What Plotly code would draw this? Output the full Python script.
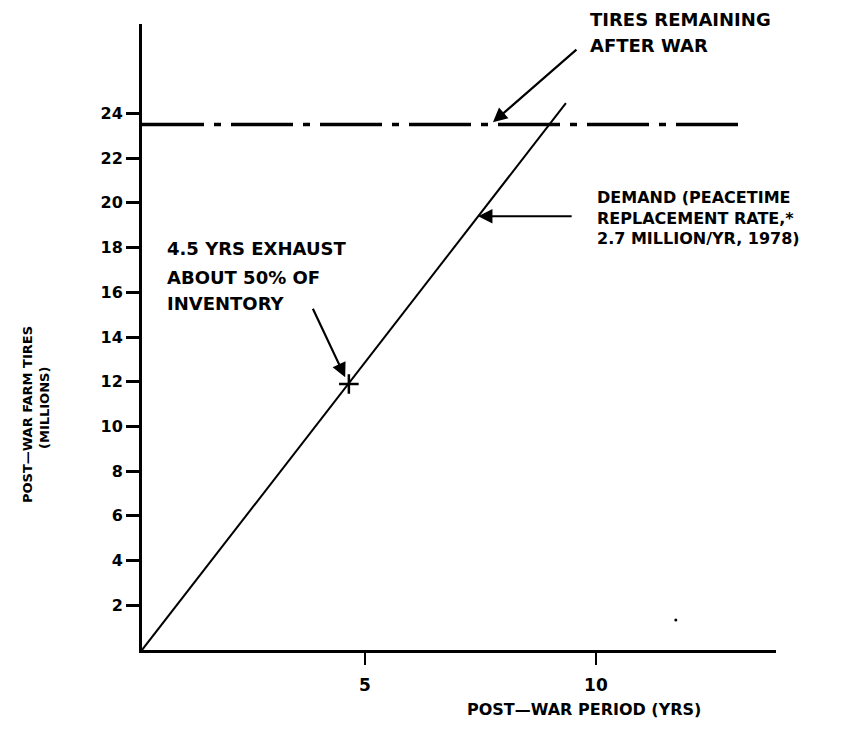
import plotly.graph_objects as go

# ---- data ----
demand_x = [0.17, 9.35]          # post-war period (yrs)
demand_y = [0.0, 24.46]          # cumulative demand (millions)
remaining_x = [0.17, 13.2]
remaining_y = [23.5, 23.5]       # tires remaining after war (millions)
marker_x = [4.65]
marker_y = [11.9]
speck_x = [11.73]
speck_y = [1.34]
y_ticks = [2, 4, 6, 8, 10, 12, 14, 16, 18, 20, 22, 24]
x_ticks = [5, 10]

# page body has an 8px default margin; size the figure to fit the window
BODY = 8
W, H = 853 - 2 * BODY, 730 - 2 * BODY
PLOT_X0, PLOT_Y0, PW, PH = 142, 24, 634, 626   # plot area in page pixels
L, T = PLOT_X0 - BODY, PLOT_Y0 - BODY
R, B = W - L - PW, H - T - PH


def px(x):
    return (x - PLOT_X0) / PW


def py(y):
    return (PLOT_Y0 + PH - y) / PH


FONT = "DejaVu Sans"

fig = go.Figure()
fig.add_trace(go.Scatter(x=remaining_x, y=remaining_y, mode="lines",
                         line=dict(color="black", width=3.5, dash="62px,10px,7px,10px"),
                         hoverinfo="skip", showlegend=False))
fig.add_trace(go.Scatter(x=demand_x, y=demand_y, mode="lines",
                         line=dict(color="black", width=2),
                         hoverinfo="skip", showlegend=False))
fig.add_trace(go.Scatter(x=marker_x, y=marker_y, mode="markers",
                         marker=dict(symbol="cross-thin", size=14,
                                     line=dict(color="black", width=2.5)),
                         hoverinfo="skip", showlegend=False))
fig.add_trace(go.Scatter(x=speck_x, y=speck_y, mode="markers",
                         marker=dict(color="black", size=3),
                         hoverinfo="skip", showlegend=False))

ann = []


def text(t, x, y, size=18, xanchor="left", angle=0):
    ann.append(dict(text=t, x=px(x), y=py(y), xref="paper", yref="paper",
                    xanchor=xanchor, yanchor="middle", showarrow=False,
                    textangle=angle,
                    font=dict(family=FONT, size=size, color="black", weight="bold")))


text("TIRES REMAINING", 588, 20)
text("AFTER WAR", 588, 45)
text("DEMAND (PEACETIME", 595, 197, size=16)
text("REPLACEMENT RATE,*", 595, 218, size=16)
text("2.7 MILLION/YR, 1978)", 595, 239, size=16)
text("4.5 YRS EXHAUST", 165, 249)
text("ABOUT 50% OF", 165, 277)
text("INVENTORY", 165, 303)
text("POST\u2014WAR PERIOD (YRS)", 584, 709, size=16, xanchor="center")
text("POST\u2014WAR FARM TIRES", 28, 415, size=13, xanchor="center", angle=-90)
text("(MILLIONS)", 44, 408, size=13, xanchor="center", angle=-90)


def arrow(x, y, ax, ay):
    ann.append(dict(text="", x=x, y=y, xref="x", yref="y", ax=ax, ay=ay,
                    showarrow=True, arrowhead=2, arrowsize=1.3, arrowwidth=2.2,
                    arrowcolor="black", standoff=0))


arrow(7.77, 23.6, 85, -74)
arrow(7.45, 19.4, 95, 0)
arrow(4.57, 12.2, -33, -70)

fig.update_layout(
    width=W, height=H, autosize=False,
    margin=dict(l=L, r=R, t=T, b=B, pad=0),
    paper_bgcolor="white", plot_bgcolor="white",
    annotations=ann,
    xaxis=dict(range=[0.17, 13.9], showgrid=False, zeroline=False,
               showline=True, linecolor="black", linewidth=3,
               tickmode="array", tickvals=x_ticks, ticktext=[str(v) for v in x_ticks],
               ticks="outside", ticklen=12, tickwidth=2, tickcolor="black",
               ticklabelstandoff=6,
               tickfont=dict(family=FONT, size=17, color="black", weight="bold")),
    yaxis=dict(range=[0, 28], showgrid=False, zeroline=False,
               showline=True, linecolor="black", linewidth=3,
               tickmode="array", tickvals=y_ticks, ticktext=[str(v) for v in y_ticks],
               ticks="outside", ticklen=13, tickwidth=2.5, tickcolor="black",
               tickfont=dict(family=FONT, size=16, color="black", weight="bold")),
)

fig.write_html("out.html")
